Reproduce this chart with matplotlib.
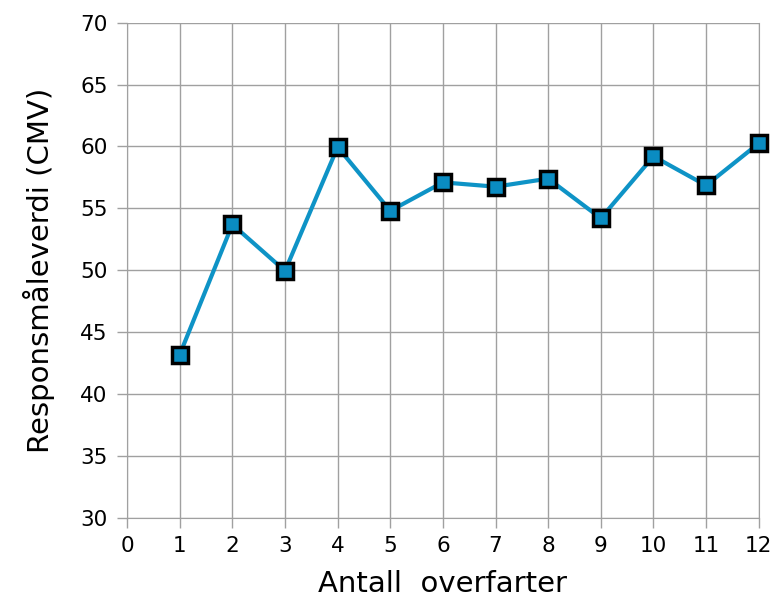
import matplotlib.pyplot as plt

passes = [1, 2, 3, 4, 5, 6, 7, 8, 9, 10, 11, 12]
cmv = [43.2, 53.7, 49.95, 59.95, 54.8, 57.1, 56.75, 57.4, 54.2, 59.2, 56.85, 60.25]

fig = plt.figure(figsize=(7.75, 6.02), dpi=100)
ax = fig.add_axes([0.164, 0.1395, 0.815, 0.823])

ax.plot(passes, cmv, color='#0E93C6', lw=3, marker='s', ms=12,
        mfc='#0A8CC2', mec='black', mew=2.5, zorder=3, clip_on=False)

ax.set_xlim(0, 12)
ax.set_ylim(30, 70)
ax.set_xticks(range(0, 13))
ax.set_yticks(range(30, 71, 5))
ax.grid(True, color='#a0a0a0', lw=1)
for s in ax.spines.values():
    s.set_color('#a0a0a0')
ax.spines['top'].set_visible(False)
ax.tick_params(colors='#a0a0a0', labelcolor='black', labelsize=15.5, length=7, width=1)
ax.tick_params(axis='x', pad=6)
ax.tick_params(axis='y', pad=7)
ax.set_xlabel('Antall  overfarter', fontsize=21, labelpad=10)
ax.set_ylabel('Responsmåleverdi (CMV)', fontsize=21, labelpad=18)

fig.savefig('out.png', dpi=100)
